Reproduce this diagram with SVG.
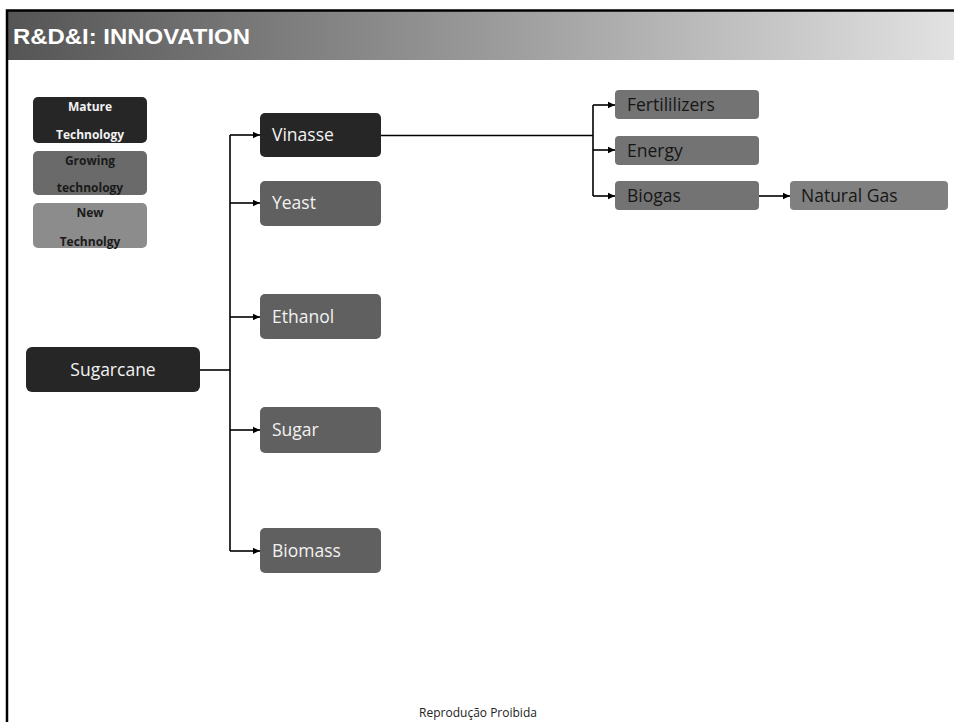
<svg xmlns="http://www.w3.org/2000/svg" width="954" height="722" viewBox="0 0 954 722">
  <defs>
    <linearGradient id="hdr" x1="0" y1="0" x2="1" y2="0">
      <stop offset="0" stop-color="#555555"/>
      <stop offset="0.5" stop-color="#999999"/>
      <stop offset="1" stop-color="#e2e2e2"/>
    </linearGradient>
    <marker id="arr" markerWidth="8" markerHeight="8" refX="7" refY="4" orient="auto" markerUnits="userSpaceOnUse">
      <path d="M0,0.8 L7,4 L0,7.2 Z" fill="#000"/>
    </marker>
    <style>
      .lbl { font-family: "Open Sans", "Noto Sans", "Liberation Sans", sans-serif; font-size: 17.5px; }
      .leg { font-family: "Open Sans", "Liberation Sans", sans-serif; font-size: 12px; font-weight: bold; text-anchor: middle; }
      .dark { fill: #262626; }
      .mid { fill: #606060; }
      .light { fill: #737373; }
      .lighter { fill: #808080; }
      .wt { fill: #f2f2f2; }
      .bt { fill: #161616; }
      .conn path { fill: none; stroke: #000; stroke-width: 1.6; }
    </style>
  </defs>

  <rect width="954" height="722" fill="#ffffff"/>

  <!-- slide frame and title band -->
  <rect x="8" y="11" width="946" height="49" fill="url(#hdr)"/>
  <path d="M7,722 V10.5 H954" fill="none" stroke="#000" stroke-width="2.5"/>
  <text x="13" y="44" font-family="Liberation Sans, Arial, sans-serif" font-size="22" font-weight="bold" fill="#ffffff" textLength="237" lengthAdjust="spacingAndGlyphs">R&amp;D&amp;I: INNOVATION</text>

  <!-- legend -->
  <g id="legend-mature">
    <rect x="33" y="97" width="114" height="46" rx="5" class="dark"/>
    <text x="90" y="111" class="leg" fill="#f2f2f2">Mature</text>
    <text x="90" y="139" class="leg" fill="#f2f2f2">Technology</text>
  </g>
  <g id="legend-growing">
    <rect x="33" y="151" width="114" height="44" rx="5" fill="#6a6a6a"/>
    <text x="90" y="165" class="leg" fill="#1a1a1a">Growing</text>
    <text x="90" y="192" class="leg" fill="#1a1a1a">technology</text>
  </g>
  <g id="legend-new">
    <rect x="33" y="203" width="114" height="45" rx="5" fill="#8c8c8c"/>
    <text x="90" y="217" class="leg" fill="#1a1a1a">New</text>
    <text x="90" y="246" class="leg" fill="#1a1a1a">Technolgy</text>
  </g>

  <!-- connectors -->
  <g id="connectors" class="conn">
    <path d="M200,370 H230"/>
    <path d="M230,135 V551"/>
    <path d="M230,135 H260" marker-end="url(#arr)"/>
    <path d="M230,203 H260" marker-end="url(#arr)"/>
    <path d="M230,317 H260" marker-end="url(#arr)"/>
    <path d="M230,430 H260" marker-end="url(#arr)"/>
    <path d="M230,551 H260" marker-end="url(#arr)"/>
    <path d="M381,135.5 H593"/>
    <path d="M593,105 V196"/>
    <path d="M593,105 H615" marker-end="url(#arr)"/>
    <path d="M593,150 H615" marker-end="url(#arr)"/>
    <path d="M593,196 H615" marker-end="url(#arr)"/>
    <path d="M759,196 H790" marker-end="url(#arr)"/>
  </g>

  <!-- nodes -->
  <g id="sugarcane">
    <rect x="26" y="347" width="174" height="45" rx="6" class="dark"/>
    <text x="113" y="376" class="lbl wt" text-anchor="middle">Sugarcane</text>
  </g>
  <g id="vinasse">
    <rect x="260" y="113" width="121" height="44" rx="5" class="dark"/>
    <text x="272" y="141" class="lbl wt">Vinasse</text>
  </g>
  <g id="yeast">
    <rect x="260" y="181" width="121" height="45" rx="5" class="mid"/>
    <text x="272" y="209" class="lbl wt">Yeast</text>
  </g>
  <g id="ethanol">
    <rect x="260" y="294" width="121" height="45" rx="5" class="mid"/>
    <text x="272" y="323" class="lbl wt">Ethanol</text>
  </g>
  <g id="sugar">
    <rect x="260" y="407" width="121" height="46" rx="5" class="mid"/>
    <text x="272" y="436" class="lbl wt">Sugar</text>
  </g>
  <g id="biomass">
    <rect x="260" y="528" width="121" height="45" rx="5" class="mid"/>
    <text x="272" y="557" class="lbl wt">Biomass</text>
  </g>
  <g id="fertilizers">
    <rect x="615" y="90" width="144" height="29" rx="4" class="light"/>
    <text x="627" y="111" class="lbl bt">Fertililizers</text>
  </g>
  <g id="energy">
    <rect x="615" y="136" width="144" height="29" rx="4" class="light"/>
    <text x="627" y="157" class="lbl bt">Energy</text>
  </g>
  <g id="biogas">
    <rect x="615" y="181" width="144" height="29" rx="4" class="light"/>
    <text x="627" y="202" class="lbl bt">Biogas</text>
  </g>
  <g id="natural-gas">
    <rect x="790" y="181" width="158" height="29" rx="4" class="lighter"/>
    <text x="801" y="202" class="lbl bt">Natural Gas</text>
  </g>

  <!-- footer -->
  <text x="478" y="717" font-family="Open Sans, Liberation Sans, sans-serif" font-size="12" fill="#222" text-anchor="middle">Reprodução Proibida</text>
</svg>
